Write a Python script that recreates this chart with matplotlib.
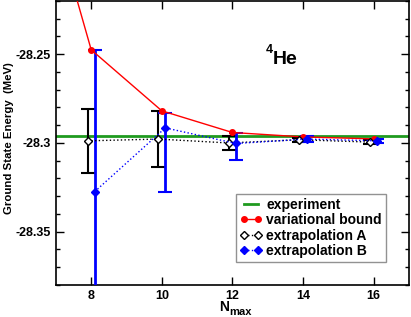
import matplotlib
matplotlib.use('Agg')
import matplotlib.pyplot as plt
import numpy as np
from matplotlib.ticker import MultipleLocator, FuncFormatter

plt.rcParams['font.family'] = ['Liberation Sans', 'DejaVu Sans']
plt.rcParams['font.weight'] = 'bold'

# data
nmax = [8, 10, 12, 14, 16]
nmax_var = [6, 8, 10, 12, 14, 16]
e_experiment = -28.2963
e_variational = [-28.108, -28.2475, -28.2819, -28.2941, -28.2966, -28.2977]

e_extrap_a = [-28.2988, -28.2978, -28.3000, -28.2982, -28.2995]
err_a = [0.0180, 0.0160, 0.0038, 0.0012, 0.0010]

e_extrap_b = [-28.3274, -28.2915, -28.3003, -28.2978, -28.2988]
err_b_low = [0.0800, 0.0360, 0.0092, 0.0018, 0.0012]
err_b_high = [0.0799, 0.0081, 0.0059, 0.0018, 0.0012]

fig = plt.figure(figsize=(4.11, 3.17), dpi=100)
ax = fig.add_axes([0.136, 0.101, 0.859, 0.896])

x = np.array(nmax, dtype=float)

# experiment
ax.axhline(e_experiment, color='#1f9a1f', lw=2, label='experiment', zorder=2)

# variational bound
ax.plot(nmax_var, e_variational, color='red', lw=1, marker='o', ms=4,
        label='variational bound', zorder=4)

# extrapolation A
ax.errorbar(x - 0.1, e_extrap_a, yerr=err_a, fmt='none', ecolor='black',
            elinewidth=1.5, capsize=5, capthick=1.5, zorder=3)
ax.plot(x - 0.1, e_extrap_a, color='black', ls=':', lw=1, marker='D', ms=4,
        mfc='white', mec='black', mew=1, label='extrapolation A', zorder=5)

# extrapolation B
ax.errorbar(x + 0.1, e_extrap_b, yerr=[err_b_low, err_b_high], fmt='none',
            ecolor='blue', elinewidth=2, capsize=5, capthick=1.5, zorder=3)
ax.plot(x + 0.1, e_extrap_b, color='blue', ls=':', lw=1, marker='D', ms=4,
        mfc='blue', mec='blue', label='extrapolation B', zorder=5)

ax.set_xlim(7, 17)
ax.set_ylim(-28.38, -28.22)
ax.set_xticks(nmax)
ax.yaxis.set_major_locator(MultipleLocator(0.05))
ax.yaxis.set_minor_locator(MultipleLocator(0.01))
ax.yaxis.set_major_formatter(FuncFormatter(lambda v, p: '%g' % round(v, 3)))
ax.tick_params(which='both', direction='in', top=True, right=True, labelsize=9)
ax.tick_params(which='major', length=6, width=1)
ax.tick_params(which='minor', length=3, width=1)
for s in ax.spines.values():
    s.set_linewidth(1.2)

ax.set_ylabel('Ground State Energy  (MeV)', fontsize=8.2, fontweight='bold')
ax.yaxis.set_label_coords(-0.118, 0.516)

# x label: N with subscript "max", placed by hand
fig.text(219 / 411, 0.019, 'N', fontsize=10, fontweight='bold', va='baseline')
fig.text(229 / 411, 0.006, 'max', fontsize=8, fontweight='bold', va='baseline')

ax.text(13.13, -28.2554, 'He', fontsize=14, fontweight='bold', va='baseline')
ax.text(12.93, -28.2495, '4', fontsize=9, fontweight='bold', va='baseline')

leg = ax.legend(loc='lower right', bbox_to_anchor=(0.935, 0.08), numpoints=2,
                fontsize=10, frameon=True, fancybox=False, edgecolor='#777777',
                handlelength=1.6, handletextpad=0.3, borderpad=0.3,
                labelspacing=0.1, borderaxespad=0)
leg.get_frame().set_linewidth(1)
for t in leg.get_texts():
    t.set_fontweight('bold')

fig.savefig('out.png', dpi=100)
